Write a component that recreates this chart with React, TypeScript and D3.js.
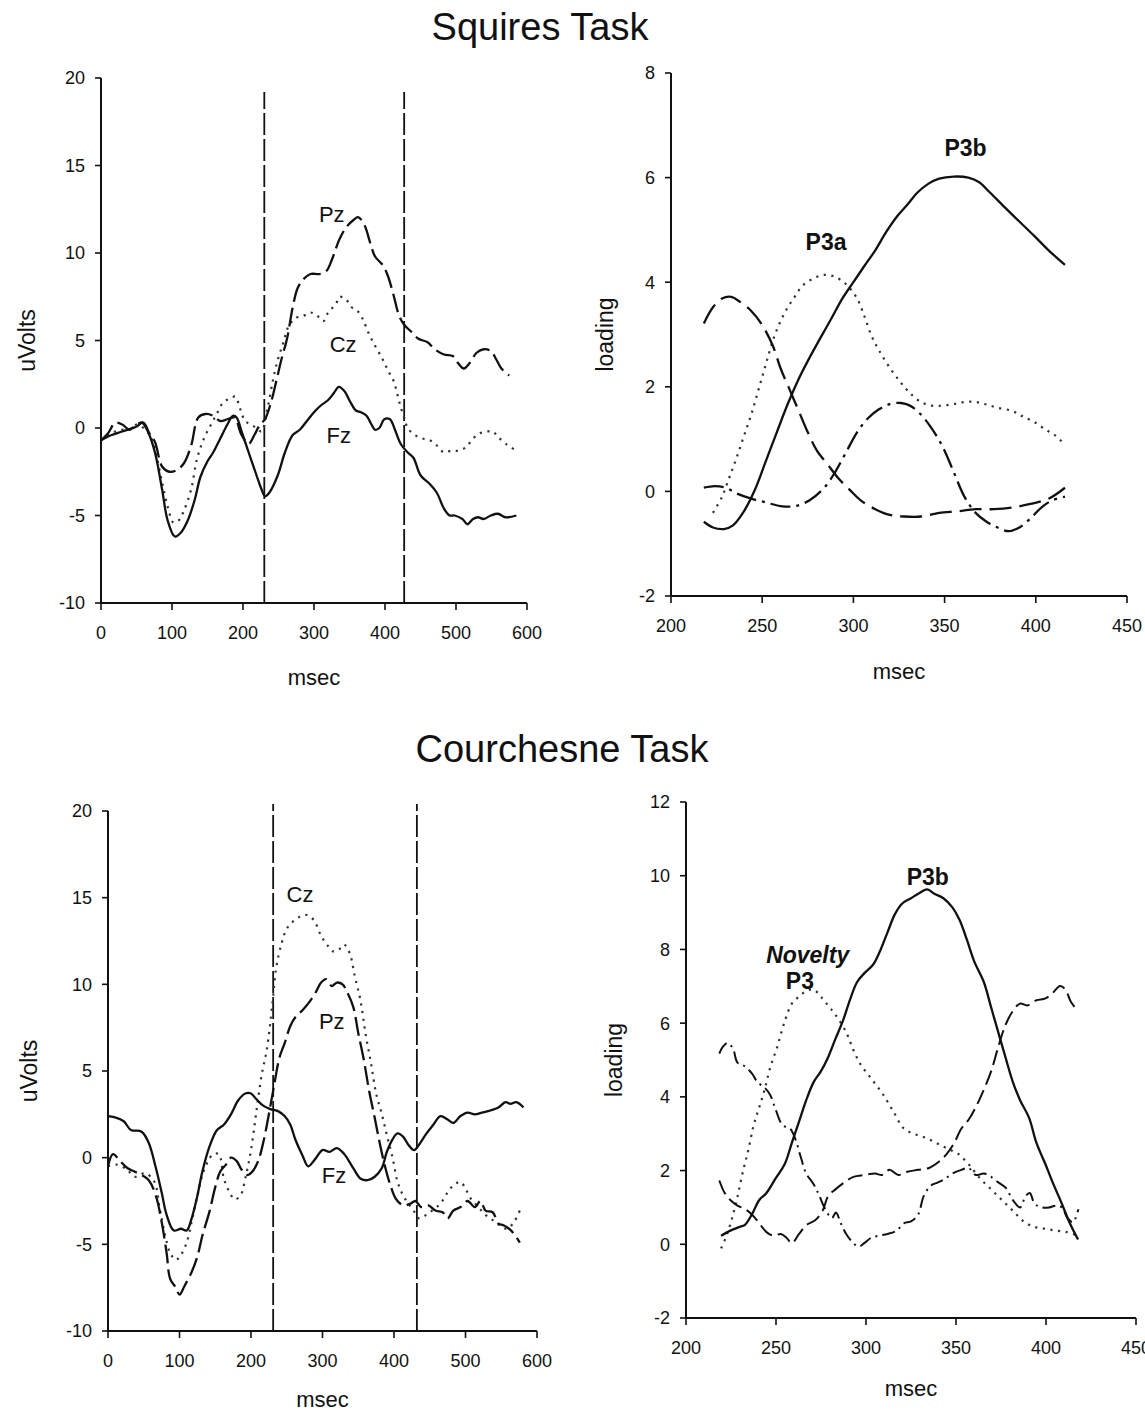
import React from 'react';
import * as d3 from 'd3';

type Pt = [number, number];

// ---------- tick labels ----------
const msTicksErp = [0, 100, 200, 300, 400, 500, 600];
const uvTicks = [-10, -5, 0, 5, 10, 15, 20];
const msTicksLoad = [200, 250, 300, 350, 400, 450];
const loadTicksSq = [-2, 0, 2, 4, 6, 8];
const loadTicksCo = [-2, 0, 2, 4, 6, 8, 10, 12];

// ---------- Squires task: ERP (ms, uV) ----------
const sqFz: Pt[] = [[0,-0.7],[15,-0.4],[30,-0.2],[51,0.1],[58,0.3],[66,-0.2],[76,-1.4],[86,-3.5],[94,-5.3],[104,-6.2],[112,-6.0],[122,-5.3],[132,-4.1],[140,-2.8],[150,-1.9],[158,-1.4],[168,-0.6],[178,0.2],[186,0.7],[191,0.6],[198,-0.2],[208,-1.4],[219,-2.7],[226,-3.5],[231,-3.9],[237,-3.7],[249,-2.7],[259,-1.4],[270,-0.4],[280,-0.1],[290,0.4],[300,0.9],[310,1.3],[320,1.6],[328,2.0],[335,2.35],[343,2.1],[351,1.5],[359,1.0],[366,0.9],[374,0.7],[381,0.2],[386,-0.1],[392,0.0],[399,0.5],[407,0.5],[414,-0.1],[422,-0.9],[432,-1.4],[440,-1.7],[450,-2.7],[463,-3.2],[473,-3.7],[483,-4.6],[491,-5.0],[498,-5.0],[509,-5.2],[516,-5.5],[524,-5.2],[531,-5.1],[539,-5.2],[549,-5.0],[559,-4.9],[570,-5.1],[585,-5.0]];
const sqPz: Pt[] = [[0,-0.7],[10,-0.3],[20,0.3],[30,0.2],[40,-0.1],[50,0.2],[60,0.3],[68,-0.3],[76,-0.8],[86,-2.2],[96,-2.5],[107,-2.4],[117,-2.0],[127,-1.0],[137,0.6],[147,0.8],[158,0.7],[168,0.4],[178,0.5],[188,0.6],[198,-0.4],[208,-0.9],[216,-0.4],[224,0.2],[231,0.5],[239,1.4],[247,2.7],[254,3.9],[262,5.1],[270,6.9],[277,8.0],[285,8.5],[295,8.8],[308,8.8],[318,9.0],[325,9.6],[336,10.8],[346,11.5],[356,11.9],[362,12.05],[371,11.6],[379,10.6],[386,9.8],[397,9.3],[404,8.7],[412,7.6],[420,6.4],[427,5.9],[437,5.5],[447,5.1],[460,4.9],[470,4.5],[483,4.2],[496,4.1],[503,3.7],[511,3.4],[519,3.7],[529,4.3],[539,4.5],[549,4.4],[557,3.9],[564,3.4],[575,3.0]];
const sqCz: Pt[] = [[0,-0.7],[10,-0.4],[20,-0.2],[30,-0.1],[40,-0.1],[50,0.2],[60,0.0],[70,-0.5],[76,-1.2],[86,-3.1],[94,-4.5],[102,-5.4],[109,-5.3],[117,-4.7],[127,-3.5],[135,-1.8],[145,-0.6],[155,0.2],[163,0.8],[173,1.5],[183,1.7],[189,1.8],[196,1.1],[203,0.4],[211,0.2],[219,0.0],[226,-0.2],[234,1.0],[242,2.7],[249,3.9],[257,4.9],[264,5.8],[275,6.3],[285,6.4],[295,6.6],[305,6.4],[313,6.1],[320,6.6],[331,7.1],[336,7.5],[346,7.3],[353,6.9],[361,6.7],[369,6.2],[376,5.5],[386,4.7],[397,3.9],[404,3.3],[412,2.7],[417,2.0],[422,1.2],[427,0.6],[432,0.0],[442,-0.4],[453,-0.6],[463,-0.7],[473,-1.0],[483,-1.4],[493,-1.3],[503,-1.3],[514,-1.1],[524,-0.6],[534,-0.3],[544,-0.2],[552,-0.2],[559,-0.5],[570,-0.9],[585,-1.3]];
const sqWindow = [230, 427];

// ---------- Squires task: PCA loadings ----------
const sqP3b: Pt[] = [[218,-0.58],[223,-0.69],[229,-0.72],[234,-0.65],[240,-0.38],[246,0.03],[252,0.58],[258,1.13],[264,1.67],[270,2.15],[276,2.56],[282,2.94],[288,3.31],[294,3.69],[300,4.0],[306,4.31],[312,4.61],[318,4.96],[324,5.26],[330,5.5],[335,5.71],[341,5.88],[347,5.98],[355,6.02],[363,6.0],[369,5.91],[375,5.71],[383,5.43],[391,5.16],[399,4.89],[407,4.61],[416,4.33]];
const sqP3a: Pt[] = [[223,-0.41],[228,-0.1],[232,0.27],[236,0.65],[240,1.06],[244,1.47],[248,1.95],[252,2.43],[256,2.9],[260,3.25],[264,3.52],[268,3.73],[272,3.93],[278,4.07],[284,4.14],[290,4.1],[296,3.96],[302,3.69],[306,3.35],[310,2.97],[314,2.7],[320,2.36],[326,2.08],[331,1.88],[337,1.71],[343,1.64],[349,1.64],[355,1.67],[361,1.71],[367,1.71],[373,1.66],[379,1.6],[387,1.54],[393,1.43],[399,1.33],[405,1.19],[411,1.06],[416,0.89]];
const sqEarly: Pt[] = [[218,3.21],[223,3.52],[228,3.69],[233,3.72],[238,3.62],[244,3.45],[250,3.18],[256,2.77],[260,2.36],[265,1.95],[270,1.54],[275,1.13],[280,0.78],[286,0.51],[292,0.24],[298,0.03],[304,-0.17],[312,-0.34],[320,-0.45],[328,-0.48],[337,-0.48],[347,-0.41],[357,-0.38],[367,-0.34],[377,-0.34],[387,-0.31],[397,-0.24],[407,-0.14],[416,0.07]];
const sqMid: Pt[] = [[218,0.07],[224,0.1],[230,0.07],[236,-0.04],[244,-0.14],[252,-0.21],[260,-0.28],[268,-0.28],[276,-0.17],[284,0.07],[290,0.37],[296,0.75],[302,1.13],[308,1.4],[314,1.57],[320,1.67],[326,1.69],[331,1.64],[337,1.47],[343,1.2],[349,0.85],[355,0.37],[361,-0.11],[367,-0.41],[373,-0.58],[379,-0.69],[385,-0.76],[391,-0.69],[397,-0.52],[403,-0.31],[409,-0.17],[416,-0.1]];

// ---------- Courchesne task: ERP (ms, uV) ----------
const coFz: Pt[] = [[0,2.4],[12,2.3],[22,2.1],[32,1.6],[47,1.5],[57,0.85],[67,-0.6],[75,-2.0],[82,-3.3],[92,-4.2],[102,-4.1],[110,-4.2],[117,-3.5],[125,-2.2],[132,-0.8],[142,0.65],[152,1.57],[162,1.9],[172,2.5],[182,3.3],[192,3.7],[200,3.7],[207,3.4],[217,3.0],[227,2.8],[237,2.7],[247,2.4],[255,1.9],[262,1.05],[272,0.13],[280,-0.5],[290,-0.07],[300,0.44],[310,0.34],[320,0.55],[330,0.23],[343,-0.6],[353,-1.2],[363,-1.3],[373,-1.1],[383,-0.6],[390,0.34],[398,1.06],[405,1.4],[413,1.2],[420,0.75],[428,0.44],[435,0.75],[445,1.37],[455,1.9],[465,2.4],[475,2.2],[483,2.0],[493,2.4],[503,2.6],[513,2.5],[523,2.6],[533,2.7],[546,2.9],[556,3.2],[563,3.1],[571,3.2],[581,2.9]];
const coPz: Pt[] = [[0,-0.5],[7,0.2],[17,-0.2],[27,-0.6],[37,-0.8],[47,-1.0],[57,-1.3],[67,-2.2],[75,-3.7],[82,-5.5],[87,-7.0],[95,-7.5],[100,-7.9],[107,-7.4],[117,-6.6],[125,-5.7],[132,-4.5],[142,-3.1],[150,-1.7],[157,-0.8],[165,-0.4],[172,0.0],[180,-0.2],[187,-0.7],[195,-1.0],[202,-0.8],[210,-0.2],[217,0.85],[225,2.5],[232,4.1],[240,5.8],[247,6.6],[255,7.6],[262,8.1],[272,8.5],[282,9.0],[290,9.5],[298,10.1],[305,10.3],[313,9.9],[320,10.1],[328,10.0],[335,9.5],[343,8.7],[350,7.2],[358,5.6],[365,3.9],[373,2.3],[380,0.85],[388,-0.6],[395,-1.6],[403,-2.4],[413,-2.75],[423,-2.65],[430,-2.5],[438,-2.85],[448,-2.75],[458,-3.05],[468,-3.15],[475,-3.5],[483,-3.05],[493,-2.85],[503,-2.5],[513,-2.85],[521,-2.5],[528,-3.05],[538,-3.15],[546,-3.8],[553,-3.9],[561,-4.1],[568,-4.4],[576,-4.9]];
const coCz: Pt[] = [[0,-0.5],[12,-0.4],[27,-0.7],[37,-1.1],[52,-0.9],[65,-1.4],[72,-2.85],[80,-4.5],[87,-5.5],[95,-5.9],[102,-5.6],[110,-4.9],[117,-3.7],[125,-2.2],[132,-1.0],[140,-0.2],[147,0.2],[155,0.2],[162,-1.2],[170,-2.0],[177,-2.4],[185,-2.2],[192,-1.2],[200,0.44],[207,2.5],[215,4.8],[222,6.2],[230,8.9],[235,10.9],[243,12.4],[250,13.2],[258,13.6],[268,13.9],[278,14.0],[288,13.7],[298,12.8],[308,12.2],[315,11.9],[323,12.0],[330,12.3],[338,11.8],[345,10.5],[353,9.1],[360,7.2],[368,5.4],[375,3.7],[383,2.5],[390,1.3],[398,0.0],[405,-1.4],[413,-2.2],[420,-2.65],[428,-3.1],[435,-3.5],[445,-3.3],[455,-3.0],[465,-2.65],[475,-2.0],[483,-1.6],[493,-1.4],[500,-1.8],[508,-2.4],[518,-2.85],[528,-3.3],[538,-3.6],[548,-3.9],[558,-4.1],[568,-3.7],[578,-2.85]];
const coWindow = [231, 432];

// ---------- Courchesne task: PCA loadings ----------
const coP3b: Pt[] = [[219.5,0.23],[224.6,0.37],[229.6,0.47],[232.6,0.52],[236.6,0.81],[240.7,1.2],[244.7,1.39],[249.7,1.78],[254.8,2.17],[258.8,2.75],[262.8,3.33],[266.8,3.91],[270.9,4.4],[274.9,4.69],[278.9,5.07],[282.9,5.56],[287,6.04],[291,6.62],[295,7.11],[299,7.35],[304,7.59],[308,7.98],[312,8.47],[316,8.95],[320,9.24],[325,9.39],[329,9.51],[334,9.63],[338,9.51],[343,9.39],[348,9.14],[352,8.8],[356,8.27],[360,7.69],[365.5,7.11],[369.5,6.43],[373.5,5.75],[377.5,5.07],[381.6,4.4],[385.6,3.91],[390.6,3.43],[394.7,2.75],[399.7,2.17],[403.7,1.68],[408.8,1.1],[412.8,0.62],[417.8,0.13]];
const coNovelty: Pt[] = [[219.5,-0.11],[222.5,0.23],[225.6,0.71],[228.6,1.29],[231.6,1.97],[234.6,2.55],[237.6,3.23],[240.7,3.72],[243.7,4.2],[246.7,4.78],[250.7,5.36],[254.8,6.04],[258.8,6.53],[262.8,6.72],[266.8,6.87],[270.9,6.91],[274.9,6.72],[278.9,6.48],[282.9,6.24],[289,5.75],[293,5.27],[297,4.88],[303,4.49],[309,4.1],[315,3.62],[321,3.14],[327,2.99],[333,2.89],[339,2.75],[345,2.6],[351,2.46],[357,2.17],[363.5,1.78],[369.5,1.49],[375.5,1.2],[381.6,0.91],[387.6,0.62],[393.7,0.47],[399.7,0.42],[405.7,0.37],[411.8,0.33],[417.8,0.23]];
const coEarly: Pt[] = [[218.5,5.17],[220.5,5.36],[223,5.46],[226,5.32],[228.6,4.93],[232.6,4.83],[236.6,4.64],[239.7,4.4],[243.7,4.25],[246.7,4.06],[249.7,3.67],[253.7,3.23],[257.8,3.14],[260.8,2.85],[263.8,2.36],[266.8,1.92],[270.9,1.63],[273.9,1.34],[276.9,1.0],[281,0.71],[283.3,0.86],[286,0.57],[289,0.28],[293,0.03],[296,-0.06],[299,0.03],[303,0.18],[307,0.23],[312,0.28],[317,0.37],[321,0.57],[325,0.62],[329,0.81],[332,1.3],[336,1.59],[340,1.68],[344,1.78],[348,1.92],[353,2.02],[357,2.07],[361,1.88],[365.5,1.92],[369.5,1.83],[373.5,1.68],[377.5,1.54],[381.6,1.2],[385.6,1.0],[388.6,1.3],[391,1.39],[393.7,1.1],[397.7,1.0],[401.7,1.0],[405.7,1.05],[408.8,1.0],[412,0.71],[415,0.6],[418,0.95]];
const coLate: Pt[] = [[218.5,1.73],[221.5,1.39],[224.6,1.2],[228.6,1.05],[232.6,0.96],[236.6,0.81],[240.7,0.57],[244.7,0.33],[248.7,0.23],[252.7,0.28],[255.8,0.18],[258.8,0.03],[262.8,0.28],[266.8,0.52],[271.9,0.66],[275.9,0.91],[278.9,1.3],[283,1.49],[288,1.68],[293,1.83],[299,1.88],[305,1.92],[309,1.88],[313,2.02],[318,1.88],[323,1.97],[329,2.02],[335,2.07],[341,2.26],[345,2.46],[349,2.75],[353,3.14],[357,3.38],[361,3.72],[365.5,4.2],[369.5,4.69],[373.5,5.36],[377.5,5.95],[381.6,6.33],[385.6,6.53],[389.6,6.48],[394.7,6.62],[399.7,6.67],[403.7,6.82],[407.8,7.01],[410.8,6.91],[413.8,6.58],[417.8,6.33]];

// ---------- styles ----------
const INK = '#111';
const FONT = "'Liberation Sans', Arial, Helvetica, sans-serif";
const STYLE: Record<string, { w: number; dash?: string; color: string }> = {
  solid: { w: 2.3, color: INK },
  dotted: { w: 2.2, dash: '2.2,5.5', color: '#333' },
  dashErp: { w: 2.3, dash: '19,6', color: INK },
  dashLoadA: { w: 2.3, dash: '22,8', color: INK },
  dashDotA: { w: 2.3, dash: '20,6,3,6', color: INK },
  dashLoadB: { w: 2, dash: '15,6', color: INK },
  dashDotB: { w: 2, dash: '13,5,2,5', color: INK },
};

type Label = { t: string; x: number; y: number; bold?: boolean; italic?: boolean; size: number };
type PanelCfg = {
  x0: number; x1: number; yT: number; yB: number;
  xd: [number, number]; yd: [number, number];
  xt: number[]; yt: number[];
  ylab: string; ylabX: number; xlabY: number;
  series: { d: Pt[]; s: string }[];
  vlines?: number[]; vTop?: number;
  labels: Label[];
};

const panels: PanelCfg[] = [
  {
    x0: 101, x1: 527, yT: 78, yB: 603, xd: [0, 600], yd: [-10, 20],
    xt: msTicksErp, yt: uvTicks, ylab: 'uVolts', ylabX: 27, xlabY: 677,
    series: [{ d: sqCz, s: 'dotted' }, { d: sqPz, s: 'dashErp' }, { d: sqFz, s: 'solid' }],
    vlines: sqWindow, vTop: 19.2,
    labels: [
      { t: 'Pz', x: 325, y: 12.2, size: 22 },
      { t: 'Cz', x: 341, y: 4.8, size: 22 },
      { t: 'Fz', x: 335, y: -0.4, size: 22 },
    ],
  },
  {
    x0: 671, x1: 1127, yT: 73, yB: 596, xd: [200, 450], yd: [-2, 8],
    xt: msTicksLoad, yt: loadTicksSq, ylab: 'loading', ylabX: 605, xlabY: 671,
    series: [{ d: sqP3a, s: 'dotted' }, { d: sqEarly, s: 'dashLoadA' }, { d: sqMid, s: 'dashDotA' }, { d: sqP3b, s: 'solid' }],
    labels: [
      { t: 'P3b', x: 361.5, y: 6.57, bold: true, size: 23 },
      { t: 'P3a', x: 285, y: 4.77, bold: true, size: 23 },
    ],
  },
  {
    x0: 108, x1: 537, yT: 811, yB: 1331, xd: [0, 600], yd: [-10, 20],
    xt: msTicksErp, yt: uvTicks, ylab: 'uVolts', ylabX: 29, xlabY: 1399,
    series: [{ d: coCz, s: 'dotted' }, { d: coPz, s: 'dashErp' }, { d: coFz, s: 'solid' }],
    vlines: coWindow, vTop: 20.4,
    labels: [
      { t: 'Cz', x: 268.5, y: 15.2, size: 22 },
      { t: 'Pz', x: 313, y: 7.9, size: 22 },
      { t: 'Fz', x: 316, y: -1.0, size: 22 },
    ],
  },
  {
    x0: 686, x1: 1136, yT: 802, yB: 1318, xd: [200, 450], yd: [-2, 12],
    xt: msTicksLoad, yt: loadTicksCo, ylab: 'loading', ylabX: 614, xlabY: 1388,
    series: [{ d: coNovelty, s: 'dotted' }, { d: coEarly, s: 'dashDotB' }, { d: coLate, s: 'dashLoadB' }, { d: coP3b, s: 'solid' }],
    labels: [
      { t: 'Novelty', x: 267.6, y: 7.86, bold: true, italic: true, size: 23 },
      { t: 'P3', x: 263.3, y: 7.16, bold: true, size: 23 },
      { t: 'P3b', x: 334.3, y: 9.96, bold: true, size: 23 },
    ],
  },
];

function Panel({ p }: { p: PanelCfg }) {
  const x = d3.scaleLinear().domain(p.xd).range([p.x0, p.x1]);
  const y = d3.scaleLinear().domain(p.yd).range([p.yB, p.yT]);
  const line = d3.line<Pt>().x((d) => x(d[0])).y((d) => y(d[1])).curve(d3.curveCatmullRom.alpha(0.5));
  const midX = (p.x0 + p.x1) / 2;
  const midY = (p.yT + p.yB) / 2;
  return (
    <g>
      {(p.vlines || []).map((v, i) => (
        <line key={'v' + i} x1={x(v)} x2={x(v)} y1={y(p.yd[0])} y2={y(p.vTop ?? p.yd[1])}
          stroke={INK} strokeWidth={1.8} strokeDasharray="22,4" />
      ))}
      {p.series.map((s, i) => {
        const st = STYLE[s.s];
        return (
          <path key={'s' + i} d={line(s.d) || ''} fill="none" stroke={st.color} strokeWidth={st.w}
            strokeDasharray={st.dash} strokeLinejoin="round" />
        );
      })}
      <line x1={p.x0} x2={p.x0} y1={p.yT} y2={p.yB} stroke={INK} strokeWidth={2} />
      <line x1={p.x0} x2={p.x1} y1={p.yB} y2={p.yB} stroke={INK} strokeWidth={2} />
      {p.yt.map((v) => (
        <g key={'yt' + v}>
          <line x1={p.x0 - 6} x2={p.x0} y1={y(v)} y2={y(v)} stroke={INK} strokeWidth={1.6} />
          <text x={p.x0 - 16} y={y(v)} dy="0.36em" textAnchor="end" fontSize={18} fill={INK}>{String(v)}</text>
        </g>
      ))}
      {p.xt.map((v) => (
        <g key={'xt' + v}>
          <line x1={x(v)} x2={x(v)} y1={p.yB} y2={p.yB + 7} stroke={INK} strokeWidth={1.6} />
          <text x={x(v)} y={p.yB + 36} textAnchor="middle" fontSize={18} fill={INK}>{String(v)}</text>
        </g>
      ))}
      <text x={midX} y={p.xlabY} dy="0.36em" textAnchor="middle" fontSize={22} fill={INK}>msec</text>
      <text transform={`translate(${p.ylabX},${midY}) rotate(-90)`} dy="0.36em" textAnchor="middle" fontSize={23} fill={INK}>{p.ylab}</text>
      {p.labels.map((l, i) => (
        <text key={'l' + i} x={x(l.x)} y={y(l.y)} dy="0.36em" textAnchor="middle" fontSize={l.size}
          fontWeight={l.bold ? 'bold' : 'normal'} fontStyle={l.italic ? 'italic' : 'normal'} fill={INK}>{l.t}</text>
      ))}
    </g>
  );
}

export default function App() {
  return (
    <svg width={1145} height={1412} viewBox="0 0 1145 1412"
      style={{ position: 'absolute', left: 0, top: 0, display: 'block', background: '#fff' }}
      fontFamily={FONT}>
      <rect x={0} y={0} width={1145} height={1412} fill="#fff" />
      <text x={540} y={40} textAnchor="middle" fontSize={38} fill={INK}>Squires Task</text>
      <text x={562} y={762} textAnchor="middle" fontSize={38} fill={INK}>Courchesne Task</text>
      {panels.map((p, i) => <Panel key={i} p={p} />)}
    </svg>
  );
}
